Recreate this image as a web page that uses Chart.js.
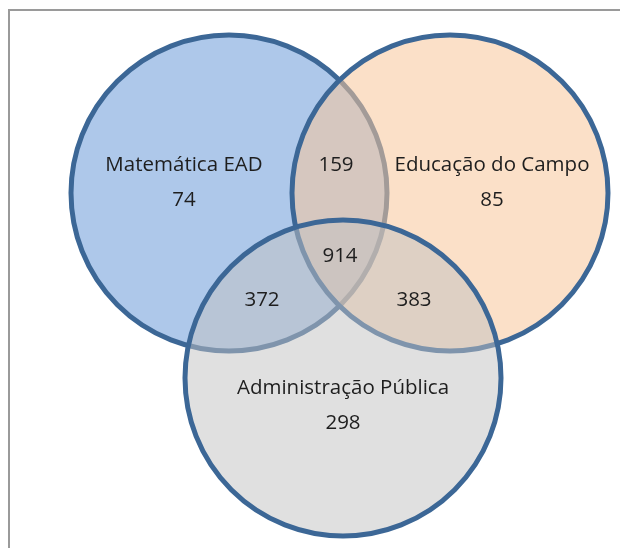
<!DOCTYPE html>
<html>
<head>
<meta charset="utf-8">
<script src="https://cdn.jsdelivr.net/npm/chart.js@4.4.1/dist/chart.umd.min.js"></script>
<style>
    html, body { margin: 0; padding: 0; background: #fff; }
    #wrap { position: relative; width: 620px; height: 548px; overflow: hidden; }
    #frame { position: absolute; left: 8px; top: 9px; width: 640px; height: 560px;
             border-top: 2px solid #9a9a9a; border-left: 2px solid #9a9a9a; }
    #venn { position: absolute; left: 0; top: 0; }
</style>
</head>
<body>
<div id="wrap">
    <div id="frame"></div>
    <canvas id="venn" width="620" height="548"></canvas>
</div>
<script>
// sets and counts
const setNames = ["Matemática EAD", "Educação do Campo", "Administração Pública"];
const onlyCounts = [74, 85, 298];
// pairs: Mat+Edu, Mat+Adm, Edu+Adm
const pairCounts = [159, 372, 383];
const allThreeCount = 914;

// layout of the circles (pixel units on the 620x548 scales)
const circleX = [229, 450, 343];
const circleY = [193, 193, 378];
const circleR = [158, 158, 158];
const fillColors = ["#aec8ea", "rgba(248, 199, 155, 0.55)", "rgba(193, 193, 193, 0.5)"];
const strokeColor = "#3c6796";

// where the numbers go
const setLabelPos = [[184, 165], [492, 165], [343, 388]];
const pairLabelPos = [[336, 165], [262, 300], [414, 300]];
const centerLabelPos = [340, 256];

document.addEventListener("DOMContentLoaded", () => {
    const ctx = document.getElementById("venn").getContext("2d");

    const datasets = setNames.map((name, i) => ({
        label: name,
        data: [{ x: circleX[i], y: circleY[i] }],
        backgroundColor: fillColors[i],
        borderColor: strokeColor,
        borderWidth: 5,
        clip: false,
        order: setNames.length - i,
        radius: (c) => {
            const s = c.chart.scales.x;
            if (!s) return circleR[i];
            const r = Math.abs(s.getPixelForValue(circleR[i]) - s.getPixelForValue(0));
            return isFinite(r) ? r : circleR[i];
        }
    }));

    const labelsPlugin = {
        id: "vennLabels",
        afterDatasetsDraw(chart) {
            const g = chart.ctx;
            const xs = chart.scales.x;
            const ys = chart.scales.y;
            const put = (text, p) => g.fillText(text, xs.getPixelForValue(p[0]), ys.getPixelForValue(p[1]));
            g.save();
            g.fillStyle = "#1e1e1e";
            g.font = "20.5px 'Open Sans'";
            g.textAlign = "center";
            g.textBaseline = "middle";
            setNames.forEach((name, i) => {
                put(name, setLabelPos[i]);
                put(String(onlyCounts[i]), [setLabelPos[i][0], setLabelPos[i][1] + 35]);
            });
            pairCounts.forEach((n, i) => put(String(n), pairLabelPos[i]));
            put(String(allThreeCount), centerLabelPos);
            g.restore();
        }
    };

    new Chart(ctx, {
        type: "bubble",
        data: { datasets },
        options: {
            responsive: false,
            animation: false,
            events: [],
            layout: { padding: 0, autoPadding: false },
            scales: {
                x: { type: "linear", min: 0, max: 620, display: false },
                y: { type: "linear", min: 0, max: 548, reverse: true, display: false }
            },
            plugins: {
                legend: { display: false },
                tooltip: { enabled: false }
            }
        },
        plugins: [labelsPlugin]
    });
});
</script>
</body>
</html>
